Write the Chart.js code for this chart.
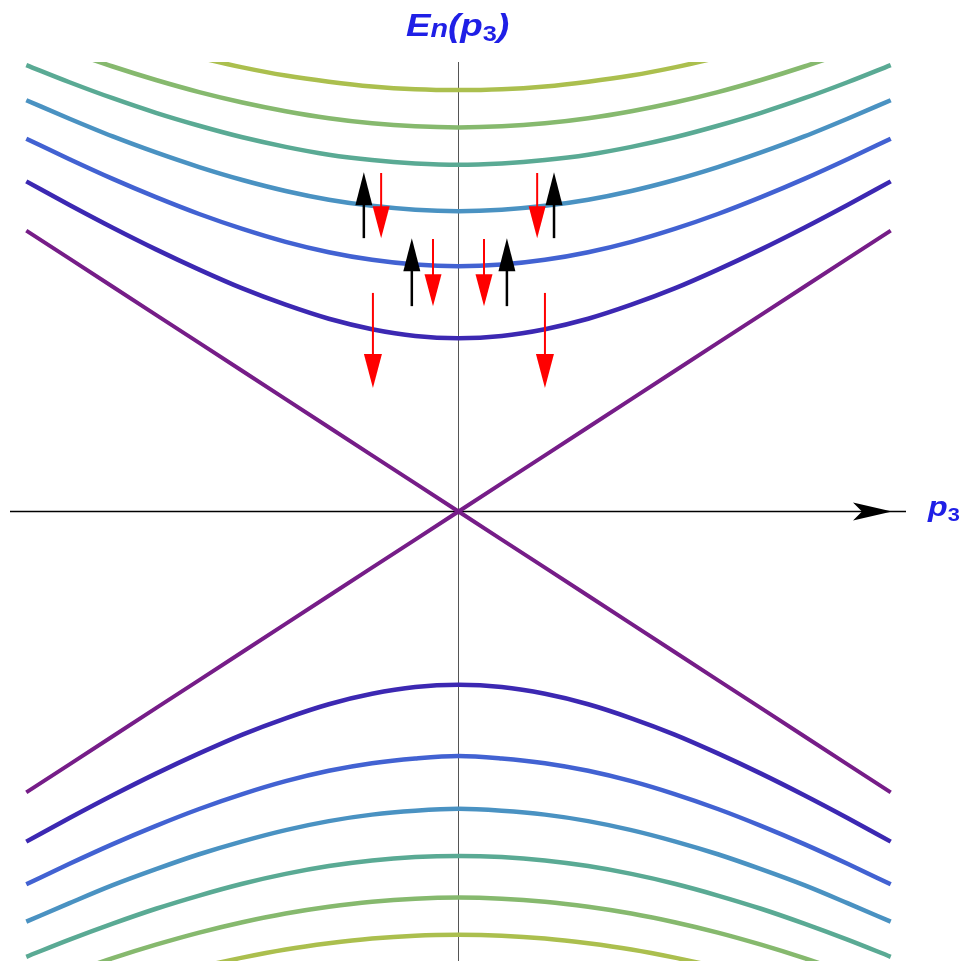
<!DOCTYPE html>
<html>
<head>
<meta charset="utf-8">
<script src="https://cdn.jsdelivr.net/npm/chart.js@4.4.0/dist/chart.umd.min.js"></script>
<style>
  body { margin: 0; background: #fff; }
  canvas { display: block; }
</style>
</head>
<body>
<canvas id="myChart" width="968" height="961"></canvas>
<script>
/** Data */

let p3 = [-1, -0.9, -0.8, -0.7, -0.6, -0.5, -0.4, -0.3, -0.2, -0.1, 0,
  0.1, 0.2, 0.3, 0.4, 0.5, 0.6, 0.7, 0.8, 0.9, 1];

// positive branches, n = 0..6
let up0 = [1, 0.9, 0.8, 0.7, 0.6, 0.5, 0.4, 0.3, 0.2, 0.1, 0, 0.1, 0.2, 0.3, 0.4, 0.5, 0.6, 0.7, 0.8, 0.9, 1];
let up1 = [1.175, 1.091, 1.010, 0.933, 0.861, 0.794, 0.736, 0.686, 0.649, 0.625, 0.617, 0.625, 0.649, 0.686, 0.736, 0.794, 0.861, 0.933, 1.010, 1.091, 1.175];
let up2 = [1.327, 1.254, 1.184, 1.119, 1.059, 1.006, 0.960, 0.923, 0.896, 0.879, 0.873, 0.879, 0.896, 0.923, 0.960, 1.006, 1.059, 1.119, 1.184, 1.254, 1.327];
let up3 = [1.464, 1.398, 1.335, 1.278, 1.226, 1.180, 1.141, 1.110, 1.088, 1.074, 1.069, 1.074, 1.088, 1.110, 1.141, 1.180, 1.226, 1.278, 1.335, 1.398, 1.464];
let up4 = [1.589, 1.528, 1.471, 1.419, 1.373, 1.332, 1.298, 1.270, 1.251, 1.239, 1.234, 1.239, 1.251, 1.270, 1.298, 1.332, 1.373, 1.419, 1.471, 1.528, 1.589];
let up5 = [1.694, 1.637, 1.584, 1.536, 1.493, 1.456, 1.425, 1.400, 1.382, 1.371, 1.367, 1.371, 1.382, 1.400, 1.425, 1.456, 1.493, 1.536, 1.584, 1.637, 1.694];
let up6 = [1.803, 1.749, 1.700, 1.655, 1.616, 1.581, 1.552, 1.530, 1.513, 1.503, 1.500, 1.503, 1.513, 1.530, 1.552, 1.581, 1.616, 1.655, 1.700, 1.749, 1.803];

// negative branches, n = 0..6
let down0 = [-1, -0.9, -0.8, -0.7, -0.6, -0.5, -0.4, -0.3, -0.2, -0.1, 0, -0.1, -0.2, -0.3, -0.4, -0.5, -0.6, -0.7, -0.8, -0.9, -1];
let down1 = [-1.175, -1.091, -1.010, -0.933, -0.861, -0.794, -0.736, -0.686, -0.649, -0.625, -0.617, -0.625, -0.649, -0.686, -0.736, -0.794, -0.861, -0.933, -1.010, -1.091, -1.175];
let down2 = [-1.327, -1.254, -1.184, -1.119, -1.059, -1.006, -0.960, -0.923, -0.896, -0.879, -0.870, -0.879, -0.896, -0.923, -0.960, -1.006, -1.059, -1.119, -1.184, -1.254, -1.327];
let down3 = [-1.460, -1.394, -1.330, -1.273, -1.220, -1.174, -1.134, -1.102, -1.079, -1.065, -1.058, -1.065, -1.079, -1.102, -1.134, -1.174, -1.220, -1.273, -1.330, -1.394, -1.460];
let down4 = [-1.585, -1.524, -1.467, -1.414, -1.367, -1.325, -1.290, -1.262, -1.242, -1.230, -1.226, -1.230, -1.242, -1.262, -1.290, -1.325, -1.367, -1.414, -1.467, -1.524, -1.585];
let down5 = [-1.700, -1.643, -1.590, -1.542, -1.499, -1.462, -1.431, -1.407, -1.389, -1.378, -1.374, -1.378, -1.389, -1.407, -1.431, -1.462, -1.499, -1.542, -1.590, -1.643, -1.700];
let down6 = [-1.808, -1.754, -1.705, -1.661, -1.622, -1.588, -1.559, -1.537, -1.520, -1.510, -1.507, -1.510, -1.520, -1.537, -1.559, -1.588, -1.622, -1.661, -1.705, -1.754, -1.808];

let levelColors = ["#761d88", "#3c28b2", "#4262d2", "#4a92c2", "#5aaa94", "#86b96e", "#abbf4e"];

// spin arrows: x position, start E, end E
let blackArrowX = [-0.219, 0.221, -0.108, 0.112];
let blackArrowFrom = [0.973, 0.973, 0.731, 0.731];
let blackArrowTo = [1.208, 1.208, 0.973, 0.973];

let redArrowX = [-0.179, 0.182, -0.059, 0.059, -0.198, 0.200];
let redArrowFrom = [1.205, 1.205, 0.970, 0.970, 0.778, 0.778];
let redArrowTo = [0.973, 0.973, 0.731, 0.731, 0.440, 0.440];

/** Chart */

function toPoints(values) {
  return p3.map((p, i) => ({ x: p, y: values[i] }));
}

let ups = [up0, up1, up2, up3, up4, up5, up6];
let downs = [down0, down1, down2, down3, down4, down5, down6];
let datasets = [];
for (let n = 0; n < 7; n++) {
  [ups[n], downs[n]].forEach((vals) => {
    datasets.push({
      data: toPoints(vals),
      borderColor: levelColors[n],
      borderWidth: n == 0 ? 4 : 4.5,
      pointRadius: 0,
      cubicInterpolationMode: n == 0 ? "default" : "monotone",
      tension: 0,
      clip: 0,
    });
  });
}

function drawArrow(ctx, x, y0, y1, color, stem, headLen, headHalf) {
  let dir = y1 < y0 ? -1 : 1;
  ctx.save();
  ctx.strokeStyle = color;
  ctx.fillStyle = color;
  ctx.lineWidth = stem;
  ctx.beginPath();
  ctx.moveTo(x, y0);
  ctx.lineTo(x, y1 - dir * headLen * 0.8);
  ctx.stroke();
  ctx.beginPath();
  ctx.moveTo(x, y1);
  ctx.lineTo(x - headHalf, y1 - dir * headLen);
  ctx.lineTo(x + headHalf, y1 - dir * headLen);
  ctx.closePath();
  ctx.fill();
  ctx.restore();
}

// draws text pieces [text, font, dy] stretched a bit horizontally
function drawLabel(ctx, x, base, pieces) {
  ctx.save();
  ctx.translate(x, base);
  ctx.scale(1.15, 1);
  let cx = 0;
  pieces.forEach(([t, font, dy]) => {
    ctx.font = font;
    ctx.fillText(t, cx, dy);
    cx += ctx.measureText(t).width;
  });
  ctx.restore();
}

let decorations = {
  id: "decorations",
  beforeDatasetsDraw(chart) {
    let ctx = chart.ctx;
    let xs = chart.scales.x;
    let ys = chart.scales.y;
    let x0 = xs.getPixelForValue(0);
    let y0 = ys.getPixelForValue(0);
    ctx.save();
    // vertical axis
    ctx.strokeStyle = "#555";
    ctx.lineWidth = 1;
    ctx.beginPath();
    ctx.moveTo(x0, chart.chartArea.top);
    ctx.lineTo(x0, chart.height);
    ctx.stroke();
    // horizontal axis with arrow
    ctx.strokeStyle = "#000";
    ctx.lineWidth = 1.3;
    ctx.beginPath();
    ctx.moveTo(10, y0);
    ctx.lineTo(906, y0);
    ctx.stroke();
    ctx.fillStyle = "#000";
    ctx.beginPath();
    ctx.moveTo(892, y0);
    ctx.lineTo(853, y0 - 9);
    ctx.lineTo(862, y0);
    ctx.lineTo(853, y0 + 9);
    ctx.closePath();
    ctx.fill();
    ctx.restore();
  },
  afterDatasetsDraw(chart) {
    let ctx = chart.ctx;
    let xs = chart.scales.x;
    let ys = chart.scales.y;
    blackArrowX.forEach((p, i) => {
      drawArrow(ctx, xs.getPixelForValue(p), ys.getPixelForValue(blackArrowFrom[i]),
        ys.getPixelForValue(blackArrowTo[i]), "#000", 2.5, 33, 8.5);
    });
    redArrowX.forEach((p, i) => {
      let big = i >= 4;
      drawArrow(ctx, xs.getPixelForValue(p), ys.getPixelForValue(redArrowFrom[i]),
        ys.getPixelForValue(redArrowTo[i]), "#ff0000", 2, big ? 34 : 32, big ? 9 : 8.5);
    });

    // labels
    ctx.save();
    ctx.fillStyle = "#1f1fe6";
    ctx.textBaseline = "alphabetic";
    ctx.textAlign = "left";
    let fam = "'Liberation Sans', Arial, sans-serif";
    drawLabel(ctx, 406, 36, [
      ["E", "italic bold 32px " + fam, 0],
      ["n", "italic bold 25px " + fam, 1],
      ["(p", "italic bold 32px " + fam, 0],
      ["3", "bold 22px " + fam, 5],
      [")", "italic bold 32px " + fam, 0],
    ]);
    drawLabel(ctx, 928, 516, [
      ["p", "italic bold 28px " + fam, 0],
      ["3", "bold 19px " + fam, 5],
    ]);
    ctx.restore();
  },
};

let chart1 = new Chart(document.getElementById("myChart"), {
  type: "line",
  data: { datasets: datasets },
  options: {
    responsive: false,
    animation: false,
    layout: { padding: { left: 9, right: 60, top: 62, bottom: 0 } },
    scales: {
      x: { type: "linear", min: -1.04, max: 1.04, display: false },
      y: { type: "linear", min: -1.6, max: 1.6, display: false },
    },
    plugins: {
      legend: { display: false },
      tooltip: { enabled: false },
    },
  },
  plugins: [decorations],
});
</script>
</body>
</html>
